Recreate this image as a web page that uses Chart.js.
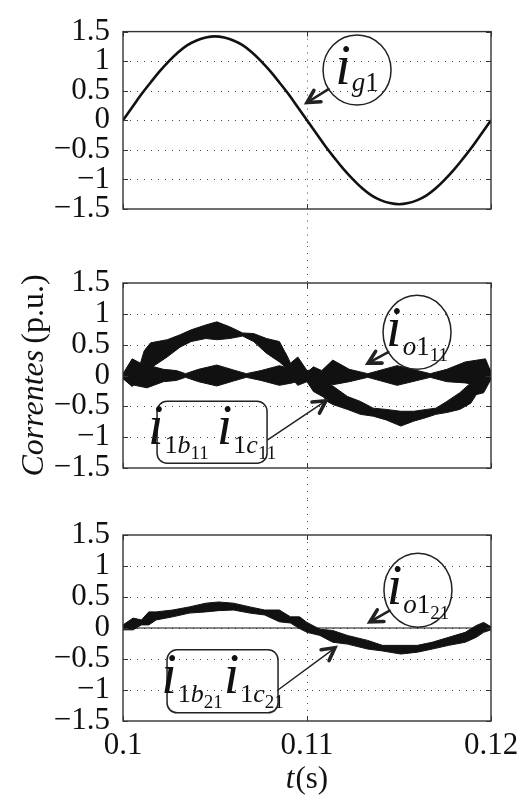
<!DOCTYPE html>
<html>
<head>
<meta charset="utf-8">
<script src="https://cdn.jsdelivr.net/npm/chart.js@4.4.0/dist/chart.umd.min.js"></script>
<style>
  html, body { margin: 0; padding: 0; background: #fff; }
  #wrap { position: relative; width: 525px; height: 803px; }
  canvas { position: absolute; left: 0; }
</style>
</head>
<body>
<div id="wrap">
  <canvas id="c1" width="525" height="246" style="top:0px"></canvas>
  <canvas id="c2" width="525" height="254" style="top:246px"></canvas>
  <canvas id="c3" width="525" height="303" style="top:500px"></canvas>
</div>
<script>
// ---- axes ----
const X_MIN = 0.1, X_MAX = 0.12;
const X_TICKS = [0.1, 0.11, 0.12];
const X_TICK_LABELS = ['0.1', '0.11', '0.12'];
const Y_TICKS = [-1.5, -1, -0.5, 0, 0.5, 1, 1.5];
const Y_TICK_LABELS = ['\u22121.5', '\u22121', '\u22120.5', '0', '0.5', '1', '1.5'];
const X_MARK = 0.11;

// ---- grid current i_g1 ----
const tG1 = [0.1, 0.1005, 0.101, 0.1015, 0.102, 0.1025, 0.103, 0.1035, 0.104, 0.1045,
             0.105, 0.1055, 0.106, 0.1065, 0.107, 0.1075, 0.108, 0.1085, 0.109, 0.1095,
             0.11, 0.1105, 0.111, 0.1115, 0.112, 0.1125, 0.113, 0.1135, 0.114, 0.1145,
             0.115, 0.1155, 0.116, 0.1165, 0.117, 0.1175, 0.118, 0.1185, 0.119, 0.1195, 0.12];
const iG1 = [0, 0.22, 0.44, 0.64, 0.83, 1.00, 1.15, 1.27, 1.35, 1.40,
             1.42, 1.40, 1.35, 1.27, 1.15, 1.00, 0.83, 0.64, 0.44, 0.22,
             0, -0.22, -0.44, -0.64, -0.83, -1.00, -1.15, -1.27, -1.35, -1.40,
             -1.42, -1.40, -1.35, -1.27, -1.15, -1.00, -0.83, -0.64, -0.44, -0.22, 0];

// ---- arm currents i_1b11 / i_1c11 (ripple envelope) ----
const t1bc11 = [0.1, 0.1005, 0.10095, 0.10115, 0.1015, 0.1024, 0.1031, 0.1037, 0.1045, 0.1051,
                0.1058, 0.1065, 0.1071, 0.1078, 0.1085, 0.10895, 0.1091, 0.1095, 0.11,
                0.11035, 0.1109, 0.1111, 0.1114, 0.1122, 0.1129, 0.1136, 0.1143, 0.1151,
                0.1158, 0.1165, 0.117, 0.1176, 0.1183, 0.1189, 0.1192, 0.1196, 0.12];
const i1bc11Max = [0.03, 0.27, 0.20, 0.40, 0.53, 0.58, 0.66, 0.74, 0.82, 0.87,
                   0.79, 0.69, 0.68, 0.60, 0.55, 0.30, 0.20, 0.30, 0.08,
                   0.09, -0.05, -0.10, -0.17, -0.34, -0.42, -0.53, -0.55, -0.58,
                   -0.58, -0.55, -0.53, -0.42, -0.28, -0.12, 0.00, 0.20, 0.08];
const i1bc11Min = [-0.05, -0.18, -0.02, 0.02, 0.12, 0.30, 0.46, 0.55, 0.60, 0.58,
                   0.60, 0.64, 0.55, 0.36, 0.22, 0.10, -0.02, -0.16, -0.10,
                   -0.26, -0.35, -0.42, -0.47, -0.55, -0.63, -0.66, -0.72, -0.82,
                   -0.74, -0.68, -0.63, -0.60, -0.55, -0.45, -0.31, -0.28, -0.06];

// ---- output current i_o1_11 (ripple envelope) ----
const tO11 = [0.1, 0.1005, 0.1013, 0.1022, 0.1029, 0.1034, 0.1041, 0.1051, 0.106, 0.1067,
              0.1075, 0.1085, 0.1092, 0.11, 0.11035, 0.1108, 0.1114, 0.1123, 0.1133, 0.1138,
              0.1149, 0.116, 0.1167, 0.1176, 0.1186, 0.1197, 0.12];
const iO11Max = [0.03, 0.10, 0.17, 0.10, 0.08, 0.03, 0.10, 0.17, 0.09, 0.03,
                 0.08, 0.16, 0.10, 0.05, 0.14, 0.08, 0.25, 0.10, 0.03, 0.07,
                 0.16, 0.08, 0.03, 0.10, 0.22, 0.27, 0.05];
const iO11Min = [-0.05, -0.15, -0.20, -0.10, -0.08, -0.03, -0.10, -0.17, -0.09, -0.03,
                 -0.08, -0.16, -0.12, -0.05, -0.14, -0.08, -0.15, -0.10, -0.03, -0.07,
                 -0.16, -0.08, -0.03, -0.10, -0.12, -0.18, -0.05];

// ---- arm currents i_1b21 / i_1c21 (ripple envelope) ----
const t1bc21 = [0.1, 0.10055, 0.101, 0.1014, 0.1018, 0.1027, 0.1036, 0.1045, 0.1052, 0.106,
                0.1069, 0.1077, 0.1085, 0.1091, 0.1096, 0.11, 0.1107, 0.1114, 0.1122, 0.1133,
                0.1141, 0.1151, 0.116, 0.1168, 0.1177, 0.1186, 0.1192, 0.1196, 0.12];
const i1bc21Max = [0.05, 0.16, 0.13, 0.26, 0.26, 0.29, 0.34, 0.40, 0.42, 0.40,
                   0.34, 0.29, 0.29, 0.18, 0.18, 0.09, -0.02, -0.04, -0.12, -0.20,
                   -0.28, -0.28, -0.28, -0.23, -0.15, -0.07, 0.04, 0.09, 0.02];
const i1bc21Min = [-0.03, -0.03, 0.05, 0.05, 0.13, 0.18, 0.24, 0.26, 0.28, 0.29,
                   0.24, 0.21, 0.10, 0.08, -0.01, -0.07, -0.12, -0.23, -0.26, -0.34,
                   -0.37, -0.42, -0.39, -0.34, -0.28, -0.23, -0.15, -0.07, -0.03];

// ---- output current i_o1_21 ----
const tO21 = [0.1, 0.12];
const iO21 = [0, 0];

// ---- styling ----
const SERIF = '"Liberation Serif", serif';
const INK = '#111';
const FRAME = '#333';

function pts(ts, vs) { return ts.map((t, k) => ({ x: t, y: vs[k] })); }

function fontOf(p) { return (p.it ? 'italic ' : '') + p.s + 'px ' + SERIF; }

// text runs with sub/sub-subscript offsets, centred on xCenter
function richWidth(ctx, parts) {
  let w = 0;
  parts.forEach(p => { ctx.font = fontOf(p); w += ctx.measureText(p.t).width + (p.k || 0); });
  return w;
}
function drawRich(ctx, parts, xCenter, baseY) {
  let x = xCenter - richWidth(ctx, parts) / 2;
  ctx.fillStyle = INK;
  ctx.textBaseline = 'alphabetic';
  ctx.textAlign = 'left';
  parts.forEach(p => {
    ctx.font = fontOf(p);
    ctx.fillText(p.t, x, baseY + (p.dy || 0));
    x += ctx.measureText(p.t).width + (p.k || 0);
  });
}

function arrow(ctx, x0, y0, x1, y1, shaftW) {
  const a = Math.atan2(y1 - y0, x1 - x0);
  const L = 14, spread = 0.5;
  ctx.save();
  ctx.strokeStyle = '#222';
  ctx.lineCap = 'round';
  ctx.lineWidth = shaftW;
  ctx.beginPath(); ctx.moveTo(x0, y0); ctx.lineTo(x1 - Math.cos(a) * 2, y1 - Math.sin(a) * 2); ctx.stroke();
  ctx.lineWidth = 3.6;
  ctx.beginPath();
  ctx.moveTo(x1 - L * Math.cos(a - spread), y1 - L * Math.sin(a - spread));
  ctx.lineTo(x1, y1);
  ctx.lineTo(x1 - L * Math.cos(a + spread), y1 - L * Math.sin(a + spread));
  ctx.stroke();
  ctx.restore();
}

// label pieces
const I = s => ({ t: 'i', it: true, s: s, k: 1 });
const lblG1 = [I(56), { t: 'g', it: true, s: 27, dy: 7 }, { t: '1', s: 27, dy: 7 }];
const lblO11 = [I(56), { t: 'o', it: true, s: 27, dy: 9 }, { t: '1', s: 27, dy: 9 }, { t: '11', s: 19, dy: 15 }];
const lblO21 = [I(56), { t: 'o', it: true, s: 27, dy: 9 }, { t: '1', s: 27, dy: 9 }, { t: '21', s: 19, dy: 15 }];
const lblBC11 = [I(56), { t: '1', s: 26, dy: 9 }, { t: 'b', it: true, s: 26, dy: 9 }, { t: '11', s: 19, dy: 15, k: 8 },
                 I(56), { t: '1', s: 26, dy: 9 }, { t: 'c', it: true, s: 26, dy: 9 }, { t: '11', s: 19, dy: 15 }];
const lblBC21 = [I(56), { t: '1', s: 26, dy: 9 }, { t: 'b', it: true, s: 26, dy: 9 }, { t: '21', s: 19, dy: 15, k: 1 },
                 I(56), { t: '1', s: 26, dy: 9 }, { t: 'c', it: true, s: 26, dy: 9 }, { t: '21', s: 19, dy: 15 }];

// callouts, anchored in data coordinates (time, per-unit current)
const notes1 = [
  { kind: 'circle', x: 0.11272, y: 0.85, rx: 34, ry: 35, label: lblG1, tip: { x: 0.11, y: 0.30 }, shaft: 2.6 }
];
const notes2 = [
  { kind: 'circle', x: 0.11598, y: 0.70, rx: 34, ry: 37, label: lblO11, tip: { x: 0.11332, y: 0.20 }, shaft: 2.6 },
  { kind: 'box', x: 0.10484, y: -0.92, w: 110, h: 62, label: lblBC11, from: { x: 0.10788, y: -1.04 }, tip: { x: 0.11103, y: -0.41 }, shaft: 1.5 }
];
const notes3 = [
  { kind: 'circle', x: 0.11603, y: 0.61, rx: 34, ry: 37, label: lblO21, tip: { x: 0.11342, y: 0.10 }, shaft: 2.6 },
  { kind: 'box', x: 0.10541, y: -0.86, w: 111, h: 63, label: lblBC21, from: { x: 0.10842, y: -1.0 }, tip: { x: 0.11152, y: -0.32 }, shaft: 1.5 }
];

// frame, dotted grid, inward ticks, callouts and axis titles
const axesDecor = {
  id: 'axesDecor',
  beforeDatasetsDraw(chart) {
    const { ctx, chartArea: ca, scales: { x, y } } = chart;
    const o = chart.options.plugins.axesDecor;
    ctx.save();
    ctx.strokeStyle = '#444';
    ctx.lineWidth = 1;
    ctx.setLineDash([1, 6]);
    Y_TICKS.forEach(v => {
      if (v === Y_TICKS[0] || v === Y_TICKS[Y_TICKS.length - 1]) return;
      const py = Math.round(y.getPixelForValue(v)) + 0.5;
      ctx.beginPath(); ctx.moveTo(ca.left, py); ctx.lineTo(ca.right, py); ctx.stroke();
    });
    const px = Math.round(x.getPixelForValue(X_MARK)) + 0.5;
    const top = o.extendUp ? 0 : ca.top;
    const bot = o.extendDown ? chart.height : ca.bottom;
    ctx.beginPath(); ctx.moveTo(px, top); ctx.lineTo(px, bot); ctx.stroke();
    ctx.restore();
  },
  afterDraw(chart) {
    const { ctx, chartArea: ca, scales: { x, y } } = chart;
    const o = chart.options.plugins.axesDecor;
    ctx.save();
    ctx.strokeStyle = FRAME;
    ctx.lineWidth = 1.4;
    ctx.strokeRect(ca.left, ca.top, ca.right - ca.left, ca.bottom - ca.top);
    ctx.lineWidth = 1;
    const tl = 5;
    Y_TICKS.forEach(v => {
      const py = Math.round(y.getPixelForValue(v)) + 0.5;
      ctx.beginPath();
      ctx.moveTo(ca.left, py); ctx.lineTo(ca.left + tl, py);
      ctx.moveTo(ca.right, py); ctx.lineTo(ca.right - tl, py);
      ctx.stroke();
    });
    X_TICKS.forEach(v => {
      const px = Math.round(x.getPixelForValue(v)) + 0.5;
      ctx.beginPath();
      ctx.moveTo(px, ca.bottom); ctx.lineTo(px, ca.bottom - tl);
      ctx.moveTo(px, ca.top); ctx.lineTo(px, ca.top + tl);
      ctx.stroke();
    });
    (o.notes || []).forEach(n => {
      const cx = x.getPixelForValue(n.x), cy = y.getPixelForValue(n.y);
      const tx = x.getPixelForValue(n.tip.x), ty = y.getPixelForValue(n.tip.y);
      ctx.strokeStyle = '#222';
      ctx.lineWidth = 1.5;
      if (n.kind === 'circle') {
        ctx.beginPath(); ctx.ellipse(cx, cy, n.rx, n.ry, 0, 0, Math.PI * 2); ctx.stroke();
        const a = Math.atan2(ty - cy, tx - cx);
        const sx = cx + n.rx * Math.cos(a), sy = cy + n.ry * Math.sin(a);
        arrow(ctx, sx, sy, tx, ty, n.shaft);
        drawRich(ctx, n.label, cx, cy + 14);
      } else {
        ctx.beginPath();
        ctx.roundRect(cx - n.w / 2, cy - n.h / 2, n.w, n.h, 10);
        ctx.stroke();
        const sx = x.getPixelForValue(n.from.x), sy = y.getPixelForValue(n.from.y);
        arrow(ctx, sx, sy, tx, ty, n.shaft);
        drawRich(ctx, n.label, cx, cy + 12);
      }
    });
    if (o.yTitle) {
      ctx.save();
      ctx.translate(43, (ca.top + ca.bottom) / 2);
      ctx.rotate(-Math.PI / 2);
      drawRich(ctx, [{ t: 'Correntes', it: true, s: 32, k: 6 }, { t: '(p.u.)', s: 32 }], 0, 0);
      ctx.restore();
    }
    if (o.xTitle) {
      drawRich(ctx, [{ t: 't', it: true, s: 31, k: 1 }, { t: '(s)', s: 31 }], (ca.left + ca.right) / 2, 288);
    }
    ctx.restore();
  }
};

function makeChart(id, datasets, opts) {
  return new Chart(document.getElementById(id), {
    type: 'line',
    data: { datasets },
    plugins: [axesDecor],
    options: {
      responsive: false,
      animation: false,
      devicePixelRatio: 1,
      layout: { padding: { left: 0, right: 34, top: opts.padTop, bottom: opts.padBottom } },
      elements: { point: { radius: 0 }, line: { borderJoinStyle: 'round' } },
      plugins: {
        legend: { display: false },
        tooltip: { enabled: false },
        axesDecor: opts.decor
      },
      scales: {
        x: {
          type: 'linear', min: X_MIN, max: X_MAX,
          display: opts.showX,
          afterBuildTicks: s => { s.ticks = X_TICKS.map(v => ({ value: v })); },
          afterFit: s => { s.height = opts.xHeight || 0; },
          grid: { display: false, drawTicks: false },
          border: { display: false },
          ticks: {
            autoSkip: false, maxRotation: 0, padding: 6, color: INK,
            font: { family: SERIF, size: 31 },
            callback: (v, k) => X_TICK_LABELS[k]
          }
        },
        y: {
          type: 'linear', min: -1.5, max: 1.5,
          afterBuildTicks: s => { s.ticks = Y_TICKS.map(v => ({ value: v })); },
          afterFit: s => { s.width = 123; },
          grid: { display: false, drawTicks: false },
          border: { display: false },
          ticks: {
            autoSkip: false, padding: 13, color: INK,
            font: { family: SERIF, size: 31 },
            callback: (v, k) => Y_TICK_LABELS[k]
          }
        }
      }
    }
  });
}

makeChart('c1', [
  { data: pts(tG1, iG1), borderColor: INK, borderWidth: 2.6, tension: 0.4, fill: false }
], { padTop: 24, padBottom: 37, showX: false, decor: { notes: notes1, extendDown: true } });

makeChart('c2', [
  { data: pts(t1bc11, i1bc11Max), borderColor: INK, borderWidth: 1, fill: false },
  { data: pts(t1bc11, i1bc11Min), borderColor: INK, borderWidth: 1, backgroundColor: INK, fill: '-1' },
  { data: pts(tO11, iO11Max), borderColor: INK, borderWidth: 1, fill: false },
  { data: pts(tO11, iO11Min), borderColor: INK, borderWidth: 1, backgroundColor: INK, fill: '-1' }
], { padTop: 37, padBottom: 32, showX: false, decor: { notes: notes2, extendUp: true, extendDown: true, yTitle: true } });

makeChart('c3', [
  { data: pts(t1bc21, i1bc21Max), borderColor: INK, borderWidth: 1, fill: false },
  { data: pts(t1bc21, i1bc21Min), borderColor: INK, borderWidth: 1, backgroundColor: INK, fill: '-1' },
  { data: pts(tO21, iO21), borderColor: INK, borderWidth: 1.2, fill: false }
], { padTop: 35, padBottom: 0, showX: true, xHeight: 82, decor: { notes: notes3, extendUp: true, xTitle: true } });
</script>
</body>
</html>
